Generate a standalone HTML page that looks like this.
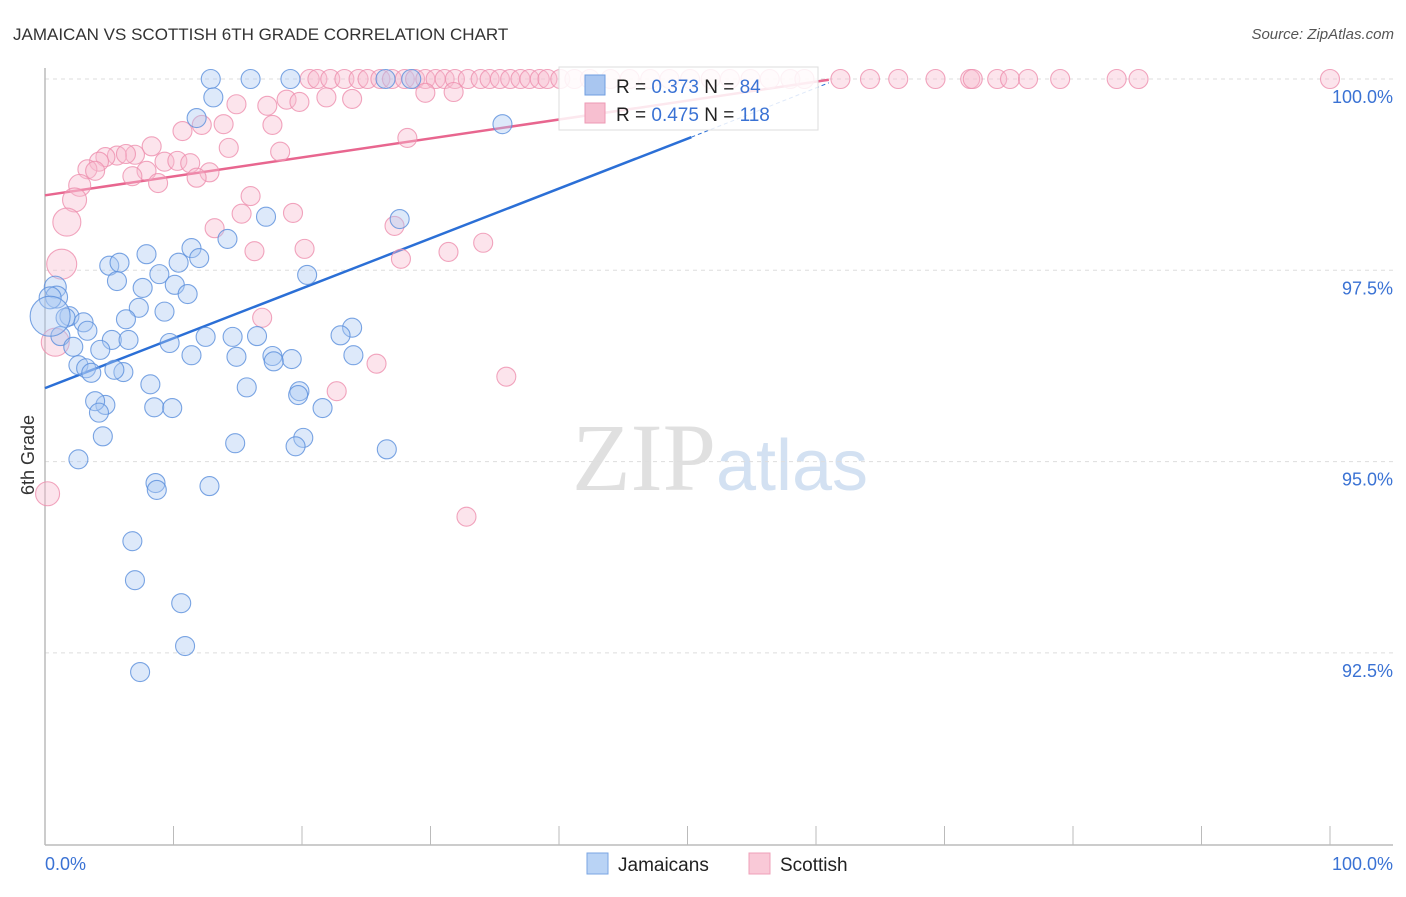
<!DOCTYPE html>
<html><head><meta charset="utf-8"><style>
body{margin:0;background:#fff;font-family:"Liberation Sans",sans-serif;}
svg text{font-family:"Liberation Sans",sans-serif;}
</style></head><body>
<svg id="chart" width="1406" height="892" xmlns="http://www.w3.org/2000/svg">
<text x="13" y="40" font-size="17" fill="#333">JAMAICAN VS SCOTTISH 6TH GRADE CORRELATION CHART</text>
<text x="1394" y="39" font-size="15" fill="#555" font-style="italic" text-anchor="end">Source: ZipAtlas.com</text>
<text x="34" y="455" font-size="18" fill="#333" transform="rotate(-90 34 455)" text-anchor="middle">6th Grade</text>
<text x="720" y="490" font-size="96" fill="#ddd" text-anchor="middle" font-family="Liberation Serif"><tspan fill="#e0e0e0" font-family="Liberation Serif">ZIP</tspan><tspan fill="#d3e1f2" font-size="72" font-family="Liberation Sans">atlas</tspan></text>
<g id="grid"></g><g id="axes"></g><g id="lines"></g><g id="pts"></g>
<g>
<rect x="559" y="67" width="259" height="63" fill="#fff" fill-opacity="0.85" stroke="#ddd"/>
<rect x="585" y="75" width="20" height="20" fill="#a9c6f0" stroke="#6f9ee0"/>
<text x="616" y="93" font-size="19" fill="#222">R = <tspan fill="#3a72d4">0.373</tspan>   N = <tspan fill="#3a72d4">84</tspan></text>
<rect x="585" y="103" width="20" height="20" fill="#f7bfd0" stroke="#ee9ab4"/>
<text x="616" y="121" font-size="19" fill="#222">R = <tspan fill="#3a72d4">0.475</tspan>   N = <tspan fill="#3a72d4">118</tspan></text>
</g>
<g>
<rect x="587" y="853" width="21" height="21" fill="#b9d3f5" stroke="#7aa6e3"/>
<text x="618" y="871" font-size="19" fill="#222">Jamaicans</text>
<rect x="749" y="853" width="21" height="21" fill="#f9c9d7" stroke="#efa0b8"/>
<text x="780" y="871" font-size="19" fill="#222">Scottish</text>
</g>
</svg>
<script>
const yTicks=[100,97.5,95,92.5];
const yTickLabels=["100.0%","97.5%","95.0%","92.5%"];
const xTicks=[0,10,20,30,40,50,60,70,80,90,100];
const blueX=[12.9,16.0,19.1,26.5,28.5,13.1,11.8,35.6,17.2,27.6,14.2,7.9,11.4,12.0,10.4,5.0,5.8,8.9,5.6,20.4,7.6,10.1,11.1,0.8,0.9,0.4,7.3,9.3,6.3,1.9,1.6,3.0,3.3,1.2,23.9,23.0,12.5,16.5,14.6,5.2,6.5,9.7,2.2,4.3,11.4,24.0,14.9,17.7,19.2,17.8,2.6,3.2,3.6,6.1,5.4,8.2,15.7,19.8,19.7,4.7,3.9,4.2,8.5,9.9,21.6,4.5,14.8,20.1,19.5,26.6,2.6,8.6,8.7,12.8,6.8,7.0,10.6,10.9,7.4,0.4];
const blueY=[100,100,100,100,100,99.76,99.49,99.41,98.20,98.17,97.91,97.71,97.79,97.66,97.60,97.56,97.60,97.45,97.36,97.44,97.27,97.31,97.19,97.28,97.15,97.14,97.01,96.96,96.86,96.90,96.88,96.82,96.71,96.64,96.75,96.65,96.63,96.64,96.63,96.59,96.59,96.55,96.50,96.46,96.39,96.39,96.37,96.38,96.34,96.31,96.26,96.22,96.16,96.17,96.20,96.01,95.97,95.92,95.87,95.74,95.79,95.64,95.71,95.70,95.70,95.33,95.24,95.31,95.20,95.16,95.03,94.72,94.63,94.68,93.96,93.45,93.15,92.59,92.25,96.9];
const blueR=[9.5,9.5,9.5,9.5,9.5,9.5,9.5,9.5,9.5,9.5,9.5,9.5,9.5,9.5,9.5,9.5,9.5,9.5,9.5,9.5,9.5,9.5,9.5,11,11,11,9.5,9.5,9.5,9.5,9.5,9.5,9.5,9.5,9.5,9.5,9.5,9.5,9.5,9.5,9.5,9.5,9.5,9.5,9.5,9.5,9.5,9.5,9.5,9.5,9.5,9.5,9.5,9.5,9.5,9.5,9.5,9.5,9.5,9.5,9.5,9.5,9.5,9.5,9.5,9.5,9.5,9.5,9.5,9.5,9.5,9.5,9.5,9.5,9.5,9.5,9.5,9.5,9.5,20];
const pinkX=[20.6,21.2,22.2,23.3,24.4,25.1,26.1,27.0,28.0,28.8,29.6,30.4,31.1,31.9,32.9,33.9,34.6,35.4,36.2,37.0,37.7,38.5,39.1,40.1,41.2,42.4,44.0,45.5,47.1,48.6,50.2,51.8,53.3,54.9,56.4,58.0,59.1,61.9,64.2,66.4,69.3,72.0,72.2,74.1,75.1,76.5,79.0,83.4,85.1,100,
29.6,14.9,17.3,18.8,19.8,21.9,23.9,31.8,12.2,13.9,17.7,10.7,28.2,8.3,14.3,18.3,7.0,5.6,4.7,6.3,4.2,3.3,3.9,9.3,10.3,11.3,7.9,6.8,12.8,11.8,8.8,2.7,2.3,1.7,1.3,0.8,0.2,16.0,15.3,19.3,13.2,27.2,16.3,20.2,34.1,31.4,27.7,16.9,25.8,22.7,35.9,32.8];
const pinkY=[100,100,100,100,100,100,100,100,100,100,100,100,100,100,100,100,100,100,100,100,100,100,100,100,100,100,100,100,100,100,100,100,100,100,100,100,100,100,100,100,100,100,100,100,100,100,100,100,100,100,
99.82,99.67,99.65,99.73,99.70,99.76,99.74,99.83,99.40,99.41,99.40,99.32,99.23,99.12,99.10,99.05,99.01,99.00,98.98,99.02,98.92,98.82,98.80,98.92,98.93,98.90,98.80,98.73,98.78,98.71,98.64,98.61,98.42,98.13,97.58,96.56,94.58,98.47,98.24,98.25,98.05,98.08,97.75,97.78,97.86,97.74,97.65,96.88,96.28,95.92,96.11,94.28];
const pinkR=[9.5,9.5,9.5,9.5,9.5,9.5,9.5,9.5,9.5,9.5,9.5,9.5,9.5,9.5,9.5,9.5,9.5,9.5,9.5,9.5,9.5,9.5,9.5,9.5,9.5,9.5,9.5,9.5,9.5,9.5,9.5,9.5,9.5,9.5,9.5,9.5,9.5,9.5,9.5,9.5,9.5,9.5,9.5,9.5,9.5,9.5,9.5,9.5,9.5,9.5,
9.5,9.5,9.5,9.5,9.5,9.5,9.5,9.5,9.5,9.5,9.5,9.5,9.5,9.5,9.5,9.5,9.5,9.5,9.5,9.5,9.5,9.5,9.5,9.5,9.5,9.5,9.5,9.5,9.5,9.5,9.5,11,12,14,15,14,12,9.5,9.5,9.5,9.5,9.5,9.5,9.5,9.5,9.5,9.5,9.5,9.5,9.5,9.5,9.5];
const blueTrend=[[0,95.96],[50.3,99.24],[61,99.95]];
const pinkTrend=[[0,98.48],[61,99.99]];
const X=v=>45+v*12.85, Y=v=>79+(100-v)*76.52;
const NS="http://www.w3.org/2000/svg";
function mk(tag,attrs,parent){const e=document.createElementNS(NS,tag);for(const k in attrs)e.setAttribute(k,attrs[k]);document.getElementById(parent).appendChild(e);return e;}
yTicks.forEach((t,i)=>{
 const l=mk('line',{x1:45,x2:1393,y1:Y(t),y2:Y(t),stroke:'#ddd','stroke-dasharray':'4,4'},'grid');
 
 
 const tx=mk('text',{x:1393,y:Y(t)+24,'font-size':18,fill:'#3a72d4','text-anchor':'end'},'grid');tx.textContent=yTickLabels[i];
 
 
});
const ax=mk('line',{x1:45,x2:1393,y1:845,y2:845,stroke:'#bbb','stroke-width':1.5},'axes');


const ay=mk('line',{x1:45,x2:45,y1:68,y2:845,stroke:'#bbb','stroke-width':1.5},'axes');


xTicks.forEach(t=>{const l=mk('line',{x1:X(t),x2:X(t),y1:826,y2:845,stroke:'#bbb'},'axes');
 
 });
const x0=mk('text',{x:45,y:870,'font-size':18,fill:'#3a72d4'},'axes');x0.textContent='0.0%';


const x1=mk('text',{x:1393,y:870,'font-size':18,fill:'#3a72d4','text-anchor':'end'},'axes');x1.textContent='100.0%';


function pts(xs,ys,rs,fill,stroke,name){xs.forEach((x,i)=>{const c=mk('circle',{cx:X(x),cy:Y(ys[i]),r:rs[i],fill:fill,'fill-opacity':0.4,stroke:stroke,'stroke-opacity':0.8,'stroke-width':1.1},'pts');
 
 });}
pts(pinkX,pinkY,pinkR,'#f7bcd0','#ee8fae','scottish-point');
pts(blueX,blueY,blueR,'#a9c8f2','#5a8fdc','jamaican-point');
const bl=mk('line',{x1:X(blueTrend[0][0]),y1:Y(blueTrend[0][1]),x2:X(blueTrend[1][0]),y2:Y(blueTrend[1][1]),stroke:'#2b6fd6','stroke-width':2.5},'lines');


const bd=mk('line',{x1:X(blueTrend[1][0]),y1:Y(blueTrend[1][1]),x2:X(blueTrend[2][0]),y2:Y(blueTrend[2][1]),stroke:'#2b6fd6','stroke-width':1,'stroke-dasharray':'4,3'},'lines');


const pl=mk('line',{x1:X(pinkTrend[0][0]),y1:Y(pinkTrend[0][1]),x2:X(pinkTrend[1][0]),y2:Y(pinkTrend[1][1]),stroke:'#e8668f','stroke-width':2.5},'lines');


</script>
</body></html>
